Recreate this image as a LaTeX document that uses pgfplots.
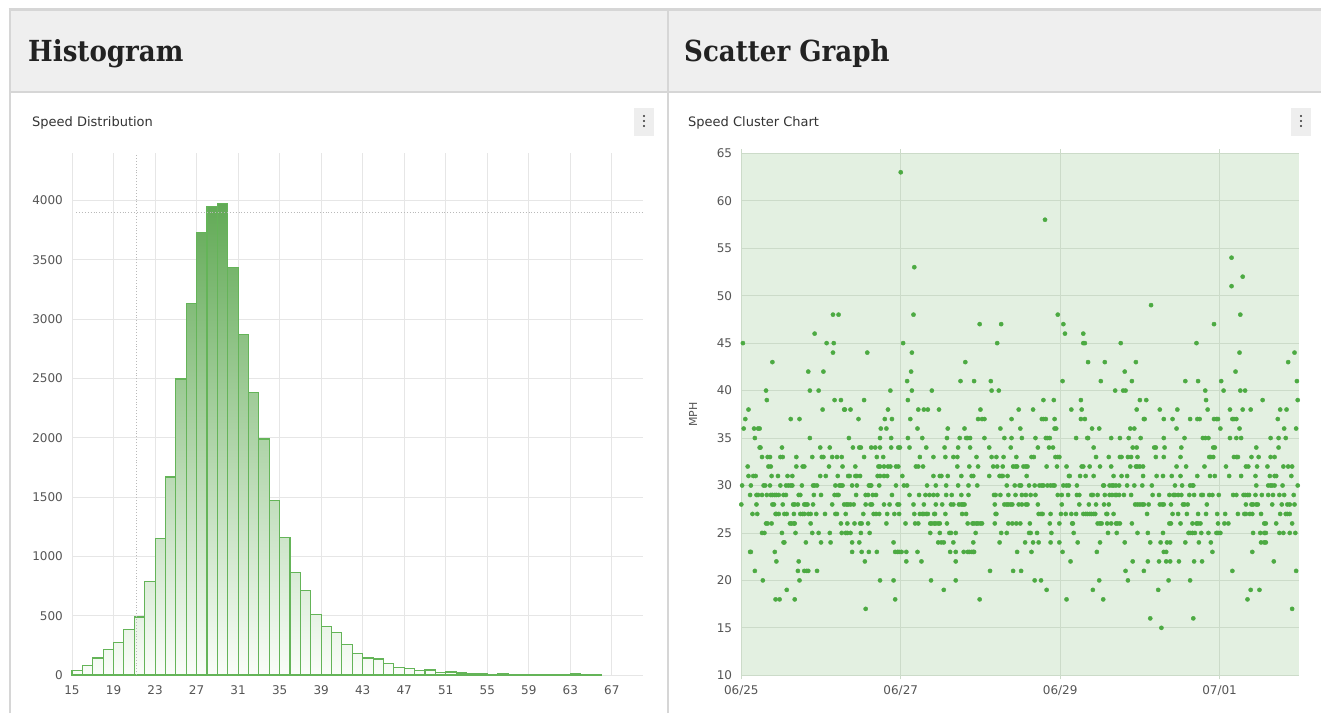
\documentclass[border=0pt]{standalone}
\usepackage{pgfplots}
\usepackage{pgfplotstable}
\pgfplotsset{compat=1.18}
\usepackage{fontspec}
\setmainfont{DejaVu Sans}
\newfontfamily\hdrfont[FakeStretch=0.9]{DejaVu Serif}

\definecolor{hdrbg}{RGB}{239,239,239}
\definecolor{framec}{RGB}{214,214,214}
\definecolor{titletext}{RGB}{34,34,34}
\definecolor{subtext}{RGB}{51,51,51}
\definecolor{btnbg}{RGB}{238,238,238}
\definecolor{ticktext}{RGB}{85,85,85}
\definecolor{gridgray}{RGB}{230,230,230}
\definecolor{crossgray}{RGB}{185,185,185}
\definecolor{histtop}{RGB}{98,170,86}
\definecolor{histbot}{RGB}{250,253,249}
\definecolor{histedge}{RGB}{100,180,88}
\definecolor{sbg}{RGB}{227,240,225}
\definecolor{sgrid}{RGB}{204,219,201}
\definecolor{dotgreen}{RGB}{76,170,66}

\pgfplotstableread[row sep=\\]{
x y\\
15 40\\ 16 79\\ 17 143\\ 18 213\\ 19 272\\ 20 382\\ 21 489\\ 22 787\\ 23 1152\\ 24 1669\\
25 2495\\ 26 3134\\ 27 3729\\ 28 3952\\ 29 3972\\ 30 3433\\ 31 2869\\ 32 2383\\ 33 1989\\ 34 1472\\
35 1160\\ 36 865\\ 37 713\\ 38 508\\ 39 407\\ 40 355\\ 41 258\\ 42 180\\ 43 143\\ 44 135\\
45 95\\ 46 65\\ 47 56\\ 48 37\\ 49 42\\ 50 22\\ 51 25\\ 52 17\\ 53 14\\ 54 11\\
55 8\\ 56 11\\ 57 8\\ 58 5\\ 59 5\\ 60 3\\ 61 3\\ 62 5\\ 63 11\\ 64 3\\ 65 3\\ 66 3\\
}\histdata

\pgfplotstableread[row sep=\\]{
x y\\
2.00 63\\ 3.81 58\\ 6.15 54\\ 2.17 53\\ 6.29 52\\ 6.15 51\\ 5.14 49\\
1.15 48\\ 1.22 48\\ 2.16 48\\ 3.97 48\\ 6.26 48\\
2.99 47\\ 3.26 47\\ 4.04 47\\ 5.93 47\\
0.92 46\\ 4.06 46\\ 4.29 46\\
0.02 45\\ 1.07 45\\ 1.16 45\\ 2.03 45\\ 3.21 45\\ 4.29 45\\ 4.31 45\\ 4.76 45\\ 5.71 45\\
1.15 44\\ 1.58 44\\ 2.14 44\\ 6.25 44\\ 6.94 44\\
0.39 43\\ 2.81 43\\ 4.35 43\\ 4.56 43\\ 4.95 43\\ 6.86 43\\
0.84 42\\ 1.03 42\\ 2.13 42\\ 4.81 42\\ 6.20 42\\
2.08 41\\ 2.75 41\\ 2.92 41\\ 3.13 41\\ 4.03 41\\ 4.51 41\\ 4.90 41\\ 5.57 41\\ 5.73 41\\ 6.02 41\\ 6.97 41\\
0.31 40\\ 0.86 40\\ 0.97 40\\ 1.87 40\\ 2.14 40\\ 2.39 40\\ 3.14 40\\ 3.23 40\\ 4.69 40\\ 4.79 40\\ 4.82 40\\ 5.82 40\\ 6.05 40\\ 6.26 40\\ 6.32 40\\
0.32 39\\ 1.17 39\\ 1.25 39\\ 1.54 39\\ 2.09 39\\ 3.79 39\\ 3.92 39\\ 4.26 39\\ 5.00 39\\ 5.08 39\\ 5.83 39\\ 6.54 39\\ 6.98 39\\
0.09 38\\ 1.02 38\\ 1.29 38\\ 1.30 38\\ 1.37 38\\ 1.84 38\\ 2.22 38\\ 2.29 38\\ 2.34 38\\ 2.48 38\\ 3.00 38\\ 3.48 38\\ 3.66 38\\ 4.14 38\\ 4.27 38\\ 4.96 38\\ 5.25 38\\ 5.47 38\\ 5.85 38\\ 6.13 38\\ 6.29 38\\ 6.39 38\\ 6.76 38\\ 6.84 38\\
0.05 37\\ 0.62 37\\ 0.73 37\\ 1.47 37\\ 1.80 37\\ 1.89 37\\ 2.12 37\\ 2.97 37\\ 3.02 37\\ 3.05 37\\ 3.39 37\\ 3.77 37\\ 3.79 37\\ 3.82 37\\ 3.93 37\\ 4.26 37\\ 4.31 37\\ 5.05 37\\ 5.06 37\\ 5.30 37\\ 5.41 37\\ 5.63 37\\ 5.72 37\\ 5.75 37\\ 5.93 37\\ 5.96 37\\ 5.98 37\\ 6.16 37\\ 6.18 37\\ 6.21 37\\ 6.73 37\\
0.03 36\\ 0.16 36\\ 0.21 36\\ 0.23 36\\ 1.75 36\\ 1.82 36\\ 2.21 36\\ 2.59 36\\ 2.80 36\\ 3.25 36\\ 3.50 36\\ 3.93 36\\ 3.95 36\\ 4.40 36\\ 4.49 36\\ 4.88 36\\ 4.93 36\\ 5.46 36\\ 6.01 36\\ 6.25 36\\ 6.81 36\\ 6.96 36\\
0.17 35\\ 0.86 35\\ 1.35 35\\ 1.74 35\\ 1.88 35\\ 2.09 35\\ 2.27 35\\ 2.58 35\\ 2.74 35\\ 2.82 35\\ 2.84 35\\ 2.87 35\\ 3.05 35\\ 3.30 35\\ 3.39 35\\ 3.52 35\\ 3.69 35\\ 3.82 35\\ 3.84 35\\ 3.87 35\\ 4.20 35\\ 4.34 35\\ 4.35 35\\ 4.64 35\\ 4.75 35\\ 4.86 35\\ 5.01 35\\ 5.30 35\\ 5.56 35\\ 5.79 35\\ 5.82 35\\ 5.86 35\\ 6.13 35\\ 6.21 35\\ 6.27 35\\ 6.64 35\\ 6.74 35\\ 6.83 35\\
0.23 34\\ 0.24 34\\ 0.51 34\\ 0.99 34\\ 1.11 34\\ 1.40 34\\ 1.48 34\\ 1.50 34\\ 1.63 34\\ 1.68 34\\ 1.74 34\\ 1.88 34\\ 1.97 34\\ 1.99 34\\ 2.11 34\\ 2.32 34\\ 2.55 34\\ 2.72 34\\ 2.87 34\\ 3.11 34\\ 3.38 34\\ 3.72 34\\ 3.86 34\\ 3.91 34\\ 4.42 34\\ 4.91 34\\ 4.96 34\\ 5.18 34\\ 5.20 34\\ 5.31 34\\ 5.52 34\\ 5.92 34\\ 5.94 34\\ 6.46 34\\ 6.74 34\\
0.26 33\\ 0.33 33\\ 0.36 33\\ 0.49 33\\ 0.52 33\\ 0.69 33\\ 0.89 33\\ 1.01 33\\ 1.03 33\\ 1.14 33\\ 1.20 33\\ 1.26 33\\ 1.54 33\\ 1.70 33\\ 1.78 33\\ 2.24 33\\ 2.41 33\\ 2.56 33\\ 2.66 33\\ 2.71 33\\ 2.95 33\\ 3.14 33\\ 3.20 33\\ 3.29 33\\ 3.45 33\\ 3.64 33\\ 3.67 33\\ 3.94 33\\ 3.97 33\\ 3.99 33\\ 4.45 33\\ 4.61 33\\ 4.75 33\\ 4.77 33\\ 4.85 33\\ 4.89 33\\ 4.97 33\\ 5.20 33\\ 5.30 33\\ 5.51 33\\ 5.87 33\\ 5.89 33\\ 5.92 33\\ 6.18 33\\ 6.21 33\\ 6.23 33\\ 6.40 33\\ 6.49 33\\ 6.64 33\\ 6.69 33\\
0.08 32\\ 0.34 32\\ 0.37 32\\ 0.69 32\\ 0.77 32\\ 0.79 32\\ 1.10 32\\ 1.27 32\\ 1.43 32\\ 1.72 32\\ 1.74 32\\ 1.79 32\\ 1.84 32\\ 1.87 32\\ 1.94 32\\ 1.97 32\\ 2.19 32\\ 2.22 32\\ 2.28 32\\ 2.71 32\\ 2.86 32\\ 2.97 32\\ 3.16 32\\ 3.21 32\\ 3.28 32\\ 3.41 32\\ 3.44 32\\ 3.46 32\\ 3.54 32\\ 3.57 32\\ 3.59 32\\ 3.83 32\\ 3.96 32\\ 4.08 32\\ 4.27 32\\ 4.29 32\\ 4.37 32\\ 4.50 32\\ 4.64 32\\ 4.88 32\\ 4.95 32\\ 4.97 32\\ 5.00 32\\ 5.04 32\\ 5.46 32\\ 5.58 32\\ 5.81 32\\ 6.08 32\\ 6.33 32\\ 6.36 32\\ 6.47 32\\ 6.60 32\\ 6.80 32\\ 6.86 32\\ 6.91 32\\
0.09 31\\ 0.15 31\\ 0.18 31\\ 0.38 31\\ 0.46 31\\ 0.58 31\\ 0.64 31\\ 0.99 31\\ 1.06 31\\ 1.21 31\\ 1.34 31\\ 1.36 31\\ 1.43 31\\ 1.45 31\\ 1.49 31\\ 1.71 31\\ 1.74 31\\ 1.79 31\\ 1.83 31\\ 2.02 31\\ 2.41 31\\ 2.49 31\\ 2.51 31\\ 2.59 31\\ 2.76 31\\ 2.89 31\\ 2.91 31\\ 3.11 31\\ 3.24 31\\ 3.26 31\\ 3.28 31\\ 3.34 31\\ 3.58 31\\ 4.11 31\\ 4.12 31\\ 4.25 31\\ 4.32 31\\ 4.42 31\\ 4.67 31\\ 4.77 31\\ 4.84 31\\ 5.04 31\\ 5.21 31\\ 5.29 31\\ 5.40 31\\ 5.51 31\\ 5.72 31\\ 5.88 31\\ 5.94 31\\ 6.12 31\\ 6.27 31\\ 6.45 31\\ 6.63 31\\ 6.69 31\\ 6.71 31\\ 6.90 31\\
0.01 30\\ 0.12 30\\ 0.28 30\\ 0.30 30\\ 0.36 30\\ 0.49 30\\ 0.56 30\\ 0.59 30\\ 0.62 30\\ 0.64 30\\ 0.76 30\\ 0.90 30\\ 0.92 30\\ 0.95 30\\ 1.18 30\\ 1.23 30\\ 1.25 30\\ 1.27 30\\ 1.39 30\\ 1.45 30\\ 1.60 30\\ 1.62 30\\ 1.63 30\\ 1.73 30\\ 1.94 30\\ 2.04 30\\ 2.08 30\\ 2.33 30\\ 2.44 30\\ 2.57 30\\ 2.72 30\\ 2.85 30\\ 2.96 30\\ 3.33 30\\ 3.43 30\\ 3.49 30\\ 3.51 30\\ 3.61 30\\ 3.68 30\\ 3.74 30\\ 3.77 30\\ 3.79 30\\ 3.84 30\\ 3.88 30\\ 3.91 30\\ 3.93 30\\ 4.04 30\\ 4.08 30\\ 4.11 30\\ 4.21 30\\ 4.54 30\\ 4.55 30\\ 4.62 30\\ 4.65 30\\ 4.67 30\\ 4.70 30\\ 4.74 30\\ 4.84 30\\ 4.93 30\\ 5.03 30\\ 5.15 30\\ 5.44 30\\ 5.53 30\\ 5.63 30\\ 5.66 30\\ 5.67 30\\ 6.46 30\\ 6.61 30\\ 6.64 30\\ 6.66 30\\ 6.69 30\\ 6.79 30\\ 6.98 30\\
0.11 29\\ 0.19 29\\ 0.21 29\\ 0.26 29\\ 0.32 29\\ 0.37 29\\ 0.39 29\\ 0.42 29\\ 0.44 29\\ 0.47 29\\ 0.53 29\\ 0.56 29\\ 0.72 29\\ 0.74 29\\ 0.91 29\\ 1.00 29\\ 1.17 29\\ 1.20 29\\ 1.22 29\\ 1.44 29\\ 1.56 29\\ 1.59 29\\ 1.65 29\\ 1.69 29\\ 1.89 29\\ 2.11 29\\ 2.23 29\\ 2.31 29\\ 2.36 29\\ 2.41 29\\ 2.46 29\\ 2.57 29\\ 2.64 29\\ 2.76 29\\ 2.85 29\\ 3.17 29\\ 3.19 29\\ 3.25 29\\ 3.35 29\\ 3.44 29\\ 3.52 29\\ 3.57 29\\ 3.63 29\\ 3.69 29\\ 3.97 29\\ 4.02 29\\ 4.10 29\\ 4.21 29\\ 4.24 29\\ 4.39 29\\ 4.41 29\\ 4.47 29\\ 4.56 29\\ 4.62 29\\ 4.65 29\\ 4.69 29\\ 4.71 29\\ 4.74 29\\ 4.80 29\\ 4.89 29\\ 5.16 29\\ 5.24 29\\ 5.37 29\\ 5.42 29\\ 5.44 29\\ 5.48 29\\ 5.52 29\\ 5.62 29\\ 5.68 29\\ 5.77 29\\ 5.79 29\\ 5.87 29\\ 5.91 29\\ 5.99 29\\ 6.17 29\\ 6.21 29\\ 6.30 29\\ 6.32 29\\ 6.35 29\\ 6.37 29\\ 6.45 29\\ 6.53 29\\ 6.61 29\\ 6.67 29\\ 6.75 29\\ 6.81 29\\ 6.93 29\\
0.00 28\\ 0.19 28\\ 0.39 28\\ 0.41 28\\ 0.52 28\\ 0.65 28\\ 0.67 28\\ 0.71 28\\ 0.79 28\\ 0.81 28\\ 0.83 28\\ 0.90 28\\ 1.14 28\\ 1.29 28\\ 1.32 28\\ 1.34 28\\ 1.37 28\\ 1.41 28\\ 1.56 28\\ 1.62 28\\ 1.64 28\\ 1.79 28\\ 1.86 28\\ 1.96 28\\ 1.98 28\\ 2.16 28\\ 2.29 28\\ 2.44 28\\ 2.52 28\\ 2.63 28\\ 2.66 28\\ 2.73 28\\ 2.76 28\\ 2.78 28\\ 2.80 28\\ 3.18 28\\ 3.30 28\\ 3.33 28\\ 3.35 28\\ 3.38 28\\ 3.40 28\\ 3.48 28\\ 3.52 28\\ 3.57 28\\ 3.59 28\\ 3.72 28\\ 4.02 28\\ 4.24 28\\ 4.36 28\\ 4.45 28\\ 4.55 28\\ 4.61 28\\ 4.94 28\\ 4.97 28\\ 5.00 28\\ 5.03 28\\ 5.05 28\\ 5.11 28\\ 5.25 28\\ 5.28 28\\ 5.30 28\\ 5.39 28\\ 5.54 28\\ 5.56 28\\ 5.60 28\\ 5.84 28\\ 6.33 28\\ 6.40 28\\ 6.42 28\\ 6.46 28\\ 6.48 28\\ 6.66 28\\ 6.78 28\\ 6.85 28\\ 6.88 28\\ 6.94 28\\
0.14 27\\ 0.20 27\\ 0.43 27\\ 0.44 27\\ 0.47 27\\ 0.54 27\\ 0.57 27\\ 0.66 27\\ 0.74 27\\ 0.77 27\\ 0.79 27\\ 0.84 27\\ 0.87 27\\ 0.94 27\\ 1.05 27\\ 1.18 27\\ 1.20 27\\ 1.31 27\\ 1.53 27\\ 1.66 27\\ 1.69 27\\ 1.73 27\\ 1.83 27\\ 1.92 27\\ 1.98 27\\ 2.17 27\\ 2.24 27\\ 2.27 27\\ 2.29 27\\ 2.32 27\\ 2.34 27\\ 2.42 27\\ 2.43 27\\ 2.56 27\\ 2.77 27\\ 2.82 27\\ 3.19 27\\ 3.20 27\\ 3.73 27\\ 3.76 27\\ 3.78 27\\ 3.88 27\\ 4.01 27\\ 4.07 27\\ 4.14 27\\ 4.20 27\\ 4.29 27\\ 4.32 27\\ 4.34 27\\ 4.37 27\\ 4.39 27\\ 4.42 27\\ 4.44 27\\ 4.58 27\\ 4.59 27\\ 4.67 27\\ 5.09 27\\ 5.41 27\\ 5.48 27\\ 5.59 27\\ 5.73 27\\ 5.83 27\\ 5.97 27\\ 6.07 27\\ 6.23 27\\ 6.31 27\\ 6.33 27\\ 6.38 27\\ 6.41 27\\ 6.52 27\\ 6.76 27\\ 6.83 27\\ 6.85 27\\ 6.88 27\\
0.31 26\\ 0.33 26\\ 0.38 26\\ 0.61 26\\ 0.63 26\\ 0.66 26\\ 0.67 26\\ 0.87 26\\ 1.25 26\\ 1.33 26\\ 1.42 26\\ 1.49 26\\ 1.51 26\\ 1.59 26\\ 1.82 26\\ 2.06 26\\ 2.18 26\\ 2.22 26\\ 2.37 26\\ 2.39 26\\ 2.42 26\\ 2.44 26\\ 2.47 26\\ 2.49 26\\ 2.58 26\\ 2.84 26\\ 2.90 26\\ 2.92 26\\ 2.95 26\\ 2.97 26\\ 3.00 26\\ 3.02 26\\ 3.18 26\\ 3.35 26\\ 3.40 26\\ 3.45 26\\ 3.50 26\\ 3.62 26\\ 3.87 26\\ 3.99 26\\ 4.15 26\\ 4.16 26\\ 4.47 26\\ 4.50 26\\ 4.52 26\\ 4.59 26\\ 4.64 26\\ 4.70 26\\ 4.72 26\\ 4.75 26\\ 4.90 26\\ 5.37 26\\ 5.39 26\\ 5.51 26\\ 5.66 26\\ 5.71 26\\ 5.73 26\\ 5.76 26\\ 5.98 26\\ 6.06 26\\ 6.11 26\\ 6.56 26\\ 6.58 26\\ 6.71 26\\ 6.91 26\\
0.26 25\\ 0.29 25\\ 0.51 25\\ 0.68 25\\ 0.89 25\\ 0.97 25\\ 1.11 25\\ 1.26 25\\ 1.31 25\\ 1.33 25\\ 1.37 25\\ 1.50 25\\ 1.61 25\\ 2.37 25\\ 2.49 25\\ 2.61 25\\ 2.63 25\\ 2.69 25\\ 2.94 25\\ 3.26 25\\ 3.33 25\\ 3.61 25\\ 3.63 25\\ 3.71 25\\ 3.89 25\\ 4.17 25\\ 4.60 25\\ 4.71 25\\ 4.97 25\\ 5.10 25\\ 5.29 25\\ 5.61 25\\ 5.63 25\\ 5.66 25\\ 5.69 25\\ 5.77 25\\ 5.86 25\\ 5.96 25\\ 5.98 25\\ 6.01 25\\ 6.42 25\\ 6.51 25\\ 6.56 25\\ 6.58 25\\ 6.75 25\\ 6.80 25\\ 6.88 25\\ 6.95 25\\
0.53 24\\ 0.54 24\\ 0.81 24\\ 1.00 24\\ 1.12 24\\ 1.39 24\\ 1.48 24\\ 1.91 24\\ 2.47 24\\ 2.51 24\\ 2.54 24\\ 2.66 24\\ 2.91 24\\ 3.24 24\\ 3.56 24\\ 3.66 24\\ 3.73 24\\ 3.88 24\\ 3.99 24\\ 4.22 24\\ 4.50 24\\ 4.81 24\\ 5.13 24\\ 5.26 24\\ 5.34 24\\ 5.38 24\\ 5.57 24\\ 5.74 24\\ 5.89 24\\ 6.52 24\\ 6.56 24\\ 6.58 24\\
0.11 23\\ 0.12 23\\ 0.42 23\\ 1.39 23\\ 1.51 23\\ 1.60 23\\ 1.70 23\\ 1.93 23\\ 1.96 23\\ 1.98 23\\ 2.01 23\\ 2.07 23\\ 2.21 23\\ 2.62 23\\ 2.69 23\\ 2.79 23\\ 2.84 23\\ 2.86 23\\ 2.89 23\\ 2.91 23\\ 2.92 23\\ 3.46 23\\ 3.64 23\\ 4.03 23\\ 4.46 23\\ 5.30 23\\ 5.33 23\\ 5.91 23\\ 6.41 23\\
0.44 22\\ 0.72 22\\ 1.55 22\\ 2.07 22\\ 2.26 22\\ 2.69 22\\ 4.13 22\\ 4.91 22\\ 5.10 22\\ 5.24 22\\ 5.33 22\\ 5.38 22\\ 5.49 22\\ 5.68 22\\ 5.78 22\\ 6.68 22\\
0.17 21\\ 0.71 21\\ 0.79 21\\ 0.82 21\\ 0.84 21\\ 0.95 21\\ 3.12 21\\ 3.41 21\\ 3.51 21\\ 4.82 21\\ 5.05 21\\ 6.16 21\\ 6.96 21\\
0.27 20\\ 0.73 20\\ 1.74 20\\ 1.91 20\\ 2.38 20\\ 2.69 20\\ 3.68 20\\ 3.76 20\\ 4.49 20\\ 4.85 20\\ 5.36 20\\ 5.63 20\\
0.57 19\\ 2.54 19\\ 3.83 19\\ 4.41 19\\ 5.23 19\\ 6.39 19\\ 6.50 19\\
0.43 18\\ 0.48 18\\ 0.67 18\\ 1.93 18\\ 2.99 18\\ 4.08 18\\ 4.54 18\\ 6.35 18\\
1.56 17\\ 6.91 17\\
5.13 16\\ 5.67 16\\
5.27 15\\
}\scatterdata

\begin{document}
\begin{tikzpicture}[x=1pt,y=1pt]
\path[use as bounding box] (0,0) rectangle (1321,713);
\fill[white] (0,0) rectangle (1321,713);
% header band
\fill[hdrbg] (10,621) rectangle (1321,703);
\draw[framec, line width=2.5pt] (8.5,703.5) -- (1321,703.5);
\draw[framec, line width=2.5pt] (10,0) -- (10,704.5);
\draw[framec, line width=2.5pt] (668,0) -- (668,704.5);
\draw[framec, line width=2pt] (10,621) -- (1321,621);
% header titles
\node[anchor=base west, inner sep=0pt, text=titletext] at (28,651) {\hdrfont\bfseries\fontsize{29}{32}\selectfont Histogram};
\node[anchor=base west, inner sep=0pt, text=titletext] at (684,651) {\hdrfont\bfseries\fontsize{29}{32}\selectfont Scatter Graph};
% panel titles
\node[anchor=base west, inner sep=0pt, text=subtext] at (32,586.5) {\fontsize{13}{15}\selectfont Speed Distribution};
\node[anchor=base west, inner sep=0pt, text=subtext] at (688,586.5) {\fontsize{13}{15}\selectfont Speed Cluster Chart};
% menu buttons
\fill[btnbg] (634,577) rectangle (654,605);
\foreach \yy in {597,592,587} {\fill[subtext] (644,\yy) circle (1.2);}
\fill[btnbg] (1291,577) rectangle (1311,605);
\foreach \yy in {597,592,587} {\fill[subtext] (1301,\yy) circle (1.2);}

% ---------------- Histogram ----------------
\begin{axis}[
  at={(72pt,38pt)}, anchor=south west, scale only axis,
  width=571pt, height=522pt,
  xmin=15, xmax=70, ymin=0, ymax=4400,
  xtick={15,19,...,67}, ytick={0,500,...,4000},
  grid=major, grid style={color=gridgray, line width=0.8pt},
  axis line style={draw=none}, major tick length=0pt,
  /pgf/number format/assume math mode=true,
  /pgf/number format/1000 sep={},
  scaled y ticks=false,
  tick label style={font=\fontsize{12}{14}\selectfont, text=ticktext},
  yticklabel style={anchor=east, inner sep=0pt, xshift=-9pt},
  xticklabel style={anchor=north, inner sep=0pt, yshift=-10.5pt},
  clip=false,
]
\addplot[const plot, draw=none, top color=histtop, bottom color=histbot] table[x=x,y=y] {\histdata} \closedcycle;
\addplot[ybar interval, fill=none, draw=histedge, line width=1.1pt] table[x=x,y=y] {\histdata};
\addplot[crossgray, dotted, line width=0.9pt] coordinates {(21.2,0) (21.2,4400)};
\addplot[crossgray, dotted, line width=0.9pt] coordinates {(15.4,3900) (70,3900)};
\end{axis}

% ---------------- Scatter ----------------
\begin{axis}[
  at={(741.3pt,37.7pt)}, anchor=south west, scale only axis,
  width=558pt, height=522pt,
  xmin=0, xmax=7, ymin=10, ymax=65,
  xtick={0,2,4,6}, xticklabels={06/25,06/27,06/29,07/01},
  ytick={10,15,...,65},
  grid=major, grid style={color=sgrid, line width=0.8pt},
  axis background/.style={fill=sbg},
  axis line style={draw=none},
  tick align=outside, major tick length=4pt,
  xtick style={draw=sgrid, line width=0.8pt},
  ytick style={draw=none},
  /pgf/number format/assume math mode=true,
  tick label style={font=\fontsize{12}{14}\selectfont, text=ticktext},
  yticklabel style={anchor=east, inner sep=0pt, xshift=-5pt},
  xticklabel style={anchor=north, inner sep=0pt, yshift=-6.5pt},
  ylabel={MPH},
  every axis y label/.style={at={(rel axis cs:-0.0866,0.5)}, rotate=90, anchor=center, font=\fontsize{11}{13}\selectfont, text=ticktext},
]
\addplot[only marks, color=dotgreen, mark=*, mark size=2.1pt, mark options={solid, draw=none, fill=dotgreen, fill opacity=1}] table[x=x,y=y] {\scatterdata};
\end{axis}
\end{tikzpicture}
\end{document}
